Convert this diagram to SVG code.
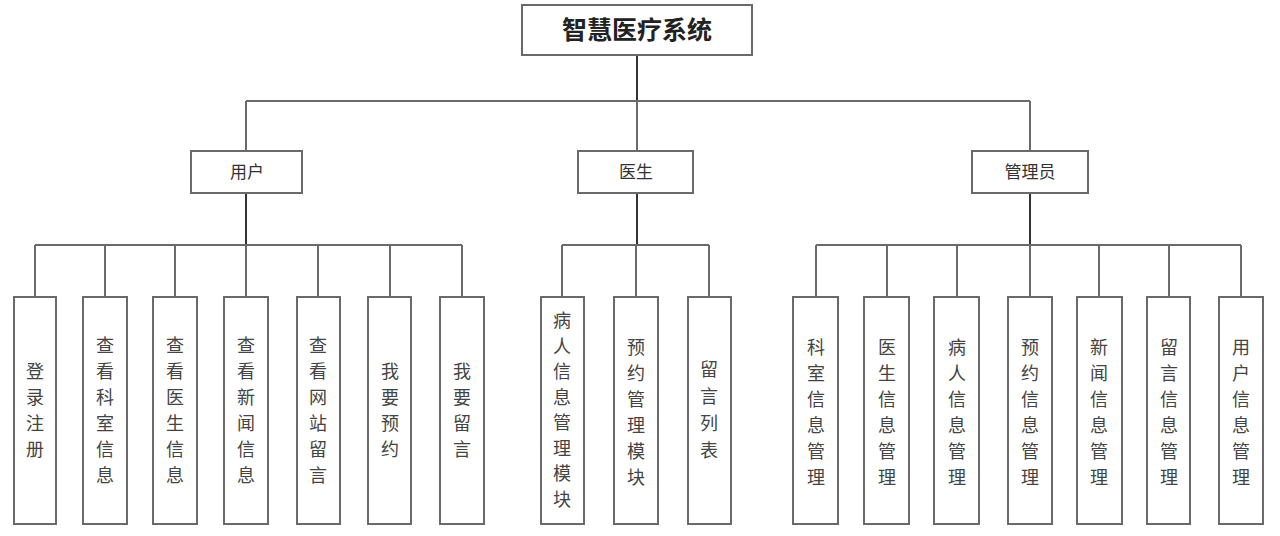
<svg xmlns="http://www.w3.org/2000/svg" width="1280" height="536" viewBox="0 0 1280 536">
<style>
.box{fill:#fff;stroke:#6a6a6a;stroke-width:2}
.ln{fill:none;stroke:#6a6a6a;stroke-width:2}
.stem{fill:none;stroke:#333;stroke-width:2}
.t{font-family:"Noto Sans CJK SC","Noto Sans",sans-serif;font-size:18px;fill:#444;text-anchor:middle}
.mid{font-family:"Noto Sans CJK SC","Noto Sans",sans-serif;font-size:17px;fill:#333;text-anchor:middle}
.top{font-family:"Noto Sans CJK SC","Noto Sans",sans-serif;font-size:25px;font-weight:bold;fill:#222;text-anchor:middle}
</style>
<rect width="1280" height="536" fill="#fff"/>
<g id="connectors">
<path class="stem" d="M637 55V101"/>
<path class="ln" d="M246 101H1030M246 101V151M637 101V151M1030 101V151"/>
<path class="stem" d="M246 193V245M637 193V245M1030 193V245"/>
<path class="ln" d="M35 245H462M35 245V297M105 245V297M175 245V297M246 245V297M318 245V297M390 245V297M462 245V297"/>
<path class="ln" d="M562 245H709M562 245V297M636 245V297M709 245V297"/>
<path class="ln" d="M816 245H1241M816 245V297M887 245V297M957 245V297M1030 245V297M1099 245V297M1169 245V297M1241 245V297"/>
</g>
<g id="root"><rect class="box" x="522" y="5" width="230" height="50"/><text class="top" x="637" y="39">智慧医疗系统</text></g>
<g id="user"><rect class="box" x="191" y="151" width="111" height="42"/><text class="mid" x="247" y="178">用户</text></g>
<g id="doctor"><rect class="box" x="578" y="151" width="115" height="42"/><text class="mid" x="636" y="178">医生</text></g>
<g id="admin"><rect class="box" x="972" y="151" width="116" height="42"/><text class="mid" x="1030" y="178">管理员</text></g>

<g id="u1"><rect class="box" x="14" y="297" width="42" height="227"/><text class="t"><tspan x="35" y="378">登</tspan><tspan x="35" dy="26">录</tspan><tspan x="35" dy="26">注</tspan><tspan x="35" dy="26">册</tspan></text></g>
<g id="u2"><rect class="box" x="83" y="297" width="44" height="227"/><text class="t"><tspan x="105" y="352">查</tspan><tspan x="105" dy="26">看</tspan><tspan x="105" dy="26">科</tspan><tspan x="105" dy="26">室</tspan><tspan x="105" dy="26">信</tspan><tspan x="105" dy="26">息</tspan></text></g>
<g id="u3"><rect class="box" x="153" y="297" width="44" height="227"/><text class="t"><tspan x="175" y="352">查</tspan><tspan x="175" dy="26">看</tspan><tspan x="175" dy="26">医</tspan><tspan x="175" dy="26">生</tspan><tspan x="175" dy="26">信</tspan><tspan x="175" dy="26">息</tspan></text></g>
<g id="u4"><rect class="box" x="224" y="297" width="44" height="227"/><text class="t"><tspan x="246" y="352">查</tspan><tspan x="246" dy="26">看</tspan><tspan x="246" dy="26">新</tspan><tspan x="246" dy="26">闻</tspan><tspan x="246" dy="26">信</tspan><tspan x="246" dy="26">息</tspan></text></g>
<g id="u5"><rect class="box" x="297" y="297" width="43" height="227"/><text class="t"><tspan x="318" y="352">查</tspan><tspan x="318" dy="26">看</tspan><tspan x="318" dy="26">网</tspan><tspan x="318" dy="26">站</tspan><tspan x="318" dy="26">留</tspan><tspan x="318" dy="26">言</tspan></text></g>
<g id="u6"><rect class="box" x="368" y="297" width="43" height="227"/><text class="t"><tspan x="390" y="378">我</tspan><tspan x="390" dy="26">要</tspan><tspan x="390" dy="26">预</tspan><tspan x="390" dy="26">约</tspan></text></g>
<g id="u7"><rect class="box" x="440" y="297" width="44" height="227"/><text class="t"><tspan x="462" y="378">我</tspan><tspan x="462" dy="26">要</tspan><tspan x="462" dy="26">留</tspan><tspan x="462" dy="26">言</tspan></text></g>

<g id="d1"><rect class="box" x="541" y="297" width="43" height="227"/><text class="t"><tspan x="562" y="327">病</tspan><tspan x="562" dy="25.5">人</tspan><tspan x="562" dy="25.5">信</tspan><tspan x="562" dy="25.5">息</tspan><tspan x="562" dy="25.5">管</tspan><tspan x="562" dy="25.5">理</tspan><tspan x="562" dy="25.5">模</tspan><tspan x="562" dy="25.5">块</tspan></text></g>
<g id="d2"><rect class="box" x="614" y="297" width="44" height="227"/><text class="t"><tspan x="636" y="354">预</tspan><tspan x="636" dy="26">约</tspan><tspan x="636" dy="26">管</tspan><tspan x="636" dy="26">理</tspan><tspan x="636" dy="26">模</tspan><tspan x="636" dy="26">块</tspan></text></g>
<g id="d3"><rect class="box" x="688" y="297" width="43" height="227"/><text class="t"><tspan x="709" y="376">留</tspan><tspan x="709" dy="27">言</tspan><tspan x="709" dy="27">列</tspan><tspan x="709" dy="27">表</tspan></text></g>

<g id="a1"><rect class="box" x="793" y="297" width="45" height="227"/><text class="t"><tspan x="816" y="354">科</tspan><tspan x="816" dy="26">室</tspan><tspan x="816" dy="26">信</tspan><tspan x="816" dy="26">息</tspan><tspan x="816" dy="26">管</tspan><tspan x="816" dy="26">理</tspan></text></g>
<g id="a2"><rect class="box" x="864" y="297" width="45" height="227"/><text class="t"><tspan x="887" y="354">医</tspan><tspan x="887" dy="26">生</tspan><tspan x="887" dy="26">信</tspan><tspan x="887" dy="26">息</tspan><tspan x="887" dy="26">管</tspan><tspan x="887" dy="26">理</tspan></text></g>
<g id="a3"><rect class="box" x="934" y="297" width="45" height="227"/><text class="t"><tspan x="957" y="354">病</tspan><tspan x="957" dy="26">人</tspan><tspan x="957" dy="26">信</tspan><tspan x="957" dy="26">息</tspan><tspan x="957" dy="26">管</tspan><tspan x="957" dy="26">理</tspan></text></g>
<g id="a4"><rect class="box" x="1008" y="297" width="44" height="227"/><text class="t"><tspan x="1030" y="354">预</tspan><tspan x="1030" dy="26">约</tspan><tspan x="1030" dy="26">信</tspan><tspan x="1030" dy="26">息</tspan><tspan x="1030" dy="26">管</tspan><tspan x="1030" dy="26">理</tspan></text></g>
<g id="a5"><rect class="box" x="1077" y="297" width="45" height="227"/><text class="t"><tspan x="1099" y="354">新</tspan><tspan x="1099" dy="26">闻</tspan><tspan x="1099" dy="26">信</tspan><tspan x="1099" dy="26">息</tspan><tspan x="1099" dy="26">管</tspan><tspan x="1099" dy="26">理</tspan></text></g>
<g id="a6"><rect class="box" x="1147" y="297" width="43" height="227"/><text class="t"><tspan x="1169" y="354">留</tspan><tspan x="1169" dy="26">言</tspan><tspan x="1169" dy="26">信</tspan><tspan x="1169" dy="26">息</tspan><tspan x="1169" dy="26">管</tspan><tspan x="1169" dy="26">理</tspan></text></g>
<g id="a7"><rect class="box" x="1219" y="297" width="44" height="227"/><text class="t"><tspan x="1241" y="354">用</tspan><tspan x="1241" dy="26">户</tspan><tspan x="1241" dy="26">信</tspan><tspan x="1241" dy="26">息</tspan><tspan x="1241" dy="26">管</tspan><tspan x="1241" dy="26">理</tspan></text></g>
</svg>
